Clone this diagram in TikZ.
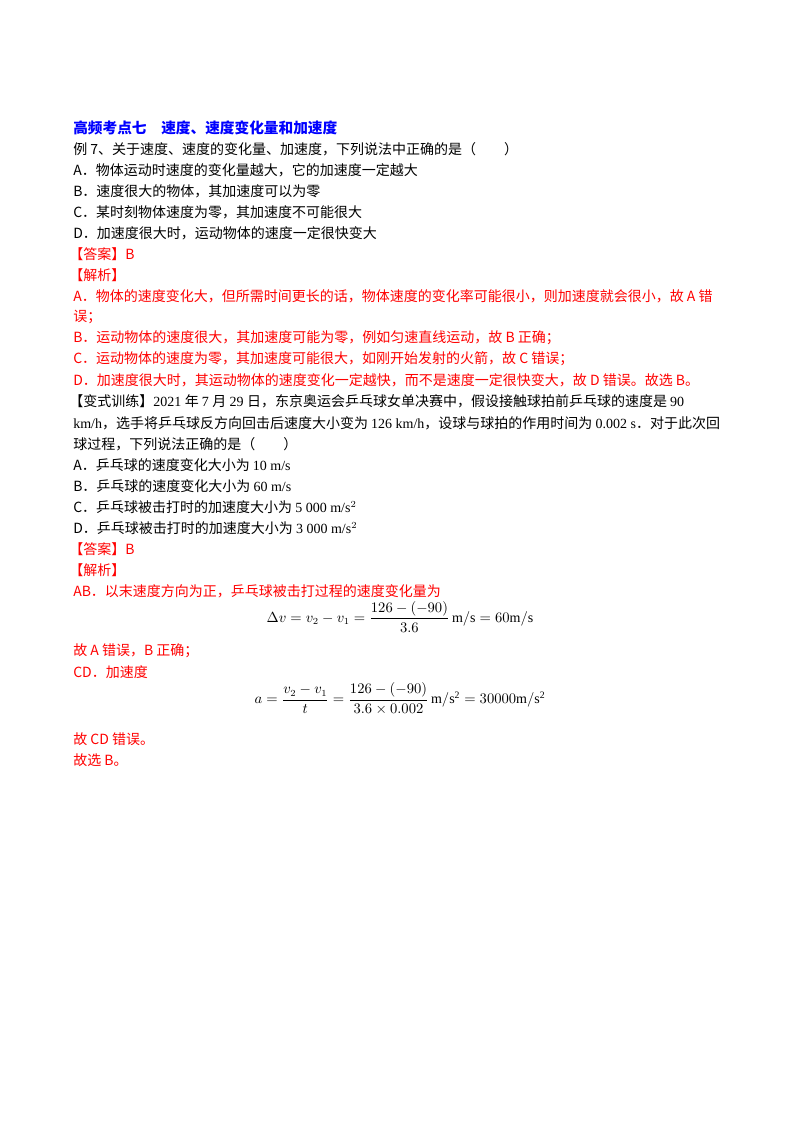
\documentclass[tikz,border=0pt]{standalone}
\usepackage{amsmath}
\usepackage{fontspec}
\setmainfont{Liberation Serif}
\newfontfamily\cjk{Noto Sans CJK SC}
\definecolor{ared}{RGB}{255,0,0}
\definecolor{tblue}{RGB}{0,0,255}
\tikzset{ln/.style={anchor=west,inner sep=0pt,font=\fontsize{10.5pt}{12pt}\selectfont},
 rd/.style={ln,text=ared},bk/.style={ln,text=black},fm/.style={anchor=center,inner sep=0pt,font=\fontsize{10.5pt}{12pt}\selectfont}}
\begin{document}
\begin{tikzpicture}[x=0.75pt,y=-0.75pt]
\useasboundingbox (0,0) rectangle (800,1132);
\node[ln,text=tblue,font=\fontsize{11pt}{12pt}\selectfont] (t) at (73,128) {\cjk\bfseries 高频考点七\quad 速度、速度变化量和加速度};
\node[bk] (q1) at (73,149) {\cjk 例 7、关于速度、速度的变化量、加速度，下列说法中正确的是（\qquad）};
\node[bk] (q2) at (73,170) {\cjk A．物体运动时速度的变化量越大，它的加速度一定越大};
\node[bk] (q3) at (73,191) {\cjk B．速度很大的物体，其加速度可以为零};
\node[bk] (q4) at (73,212) {\cjk C．某时刻物体速度为零，其加速度不可能很大};
\node[bk] (q5) at (73,233) {\cjk D．加速度很大时，运动物体的速度一定很快变大};
\node[rd] (a1) at (69,254) {\cjk 【答案】B};
\node[rd] (a2) at (69,275) {\cjk 【解析】};
\node[rd] (a3) at (73,296) {\cjk A．物体的速度变化大，但所需时间更长的话，物体速度的变化率可能很小，则加速度就会很小，故 A 错};
\node[rd] (a4) at (73,317) {\cjk 误；};
\node[rd] (a5) at (73,338) {\cjk B．运动物体的速度很大，其加速度可能为零，例如匀速直线运动，故 B 正确；};
\node[rd] (a6) at (73,359) {\cjk C．运动物体的速度为零，其加速度可能很大，如刚开始发射的火箭，故 C 错误；};
\node[rd] (a7) at (73,380) {\cjk D．加速度很大时，其运动物体的速度变化一定越快，而不是速度一定很快变大，故 D 错误。故选 B。};
\node[bk] (b1) at (69,401) {\cjk 【变式训练】\rmfamily 2021 \cjk 年 \rmfamily 7 \cjk 月 \rmfamily 29 \cjk 日，东京奥运会乒乓球女单决赛中，假设接触球拍前乒乓球的速度是 \rmfamily 90};
\node[bk] (b2) at (73,423) {\rmfamily km/h\cjk ，选手将乒乓球反方向回击后速度大小变为 \rmfamily 126 km/h\cjk ，设球与球拍的作用时间为 \rmfamily 0.002 s\cjk ．对于此次回};
\node[bk] (b3) at (73,444) {\cjk 球过程，下列说法正确的是（\qquad）};
\node[bk] (b4) at (73,465) {\cjk A．乒乓球的速度变化大小为 \rmfamily 10 m/s};
\node[bk] (b5) at (73,486) {\cjk B．乒乓球的速度变化大小为 \rmfamily 60 m/s};
\node[bk] (b6) at (73,507) {\cjk C．乒乓球被击打时的加速度大小为 \rmfamily 5 000 m/s$^2$};
\node[bk] (b7) at (73,528) {\cjk D．乒乓球被击打时的加速度大小为 \rmfamily 3 000 m/s$^2$};
\node[rd] (c1) at (69,549) {\cjk 【答案】B};
\node[rd] (c2) at (69,570) {\cjk 【解析】};
\node[rd] (c3) at (73,591) {\cjk AB．以末速度方向为正，乒乓球被击打过程的速度变化量为};
\node[fm] (f1) at (400,617) {$\Delta v=v_2-v_1=\dfrac{126-(-90)}{3.6}\,\mathrm{m/s}=60\mathrm{m/s}$};
\node[rd] (c4) at (73,651) {\cjk 故 A 错误，B 正确；};
\node[rd] (c5) at (73,672) {\cjk CD．加速度};
\node[fm] (f2) at (400,699) {$a=\dfrac{v_2-v_1}{t}=\dfrac{126-(-90)}{3.6\times0.002}\,\mathrm{m/s^2}=30000\mathrm{m/s^2}$};
\node[rd] (c6) at (73,739) {\cjk 故 CD 错误。};
\node[rd] (c7) at (73,760) {\cjk 故选 B。};
\end{tikzpicture}
\end{document}
